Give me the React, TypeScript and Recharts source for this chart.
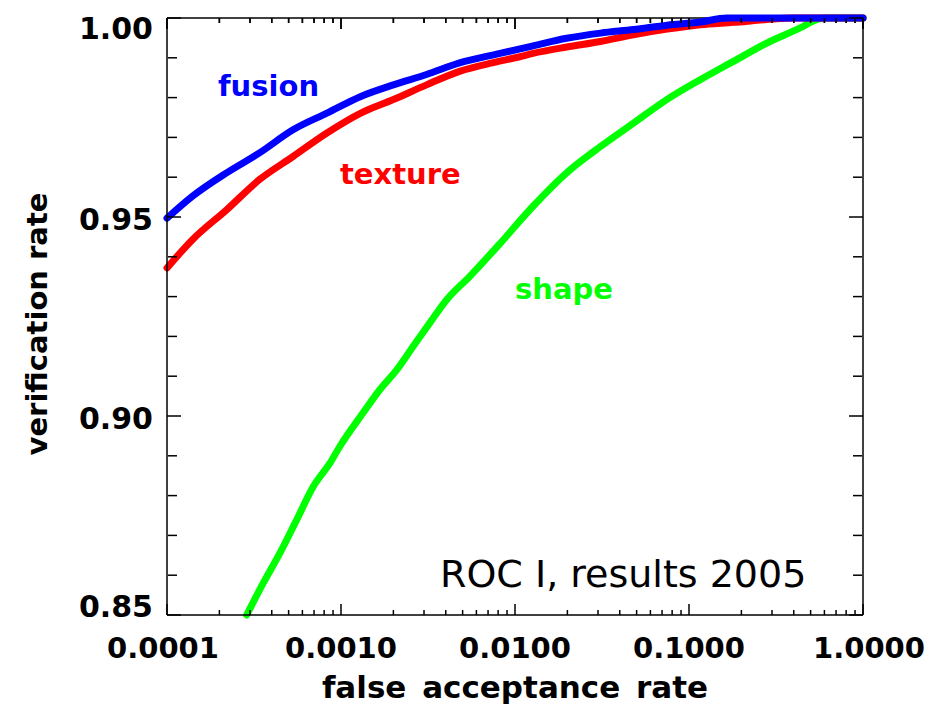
import React from 'react';
import { LineChart, Line, XAxis, YAxis, ReferenceLine, Customized } from 'recharts';

// ---------- data ----------
const fusionFar = [0.0001, 0.00014, 0.00022, 0.00034, 0.00053, 0.00083, 0.0013, 0.002, 0.0031, 0.0048, 0.0082, 0.0127, 0.0198, 0.031, 0.048, 0.075, 0.116, 0.165, 0.3, 0.6, 1.0];
const fusionVr = [0.9497, 0.9552, 0.9611, 0.9661, 0.9719, 0.9761, 0.9803, 0.9832, 0.9858, 0.9887, 0.9911, 0.993, 0.9949, 0.9962, 0.9971, 0.9982, 0.999, 1.0, 1.0, 1.0, 1.0];

const textureFar = [0.0001, 0.00014, 0.00022, 0.00034, 0.00053, 0.00083, 0.0013, 0.002, 0.0031, 0.0048, 0.0075, 0.0105, 0.0127, 0.0198, 0.031, 0.048, 0.075, 0.116, 0.18, 0.28, 0.4, 1.0];
const textureVr = [0.9372, 0.9443, 0.9518, 0.9594, 0.9652, 0.9711, 0.9761, 0.9795, 0.9832, 0.9866, 0.9888, 0.9902, 0.9911, 0.9927, 0.9941, 0.9958, 0.9972, 0.9983, 0.9989, 0.9996, 1.0, 1.0];

const shapeFar = [0.000287, 0.000357, 0.000446, 0.000556, 0.000693, 0.000865, 0.000986, 0.00134, 0.00167, 0.00209, 0.0026, 0.00324, 0.00405, 0.0055, 0.008, 0.0127, 0.0198, 0.031, 0.048, 0.0745, 0.116, 0.18, 0.28, 0.435, 0.542, 0.6, 1.0];
const shapeVr = [0.85, 0.858, 0.8656, 0.8739, 0.8823, 0.8882, 0.8924, 0.9008, 0.9066, 0.9116, 0.9175, 0.9234, 0.9292, 0.9351, 0.9428, 0.9527, 0.9611, 0.9677, 0.9736, 0.9795, 0.9845, 0.9891, 0.9937, 0.9975, 0.9996, 1.0, 1.0];

const xMajorTicks = [0.0001, 0.001, 0.01, 0.1, 1];
const xMinorTicks = [
  0.0002, 0.0003, 0.0004, 0.0005, 0.0006, 0.0007, 0.0008, 0.0009,
  0.002, 0.003, 0.004, 0.005, 0.006, 0.007, 0.008, 0.009,
  0.02, 0.03, 0.04, 0.05, 0.06, 0.07, 0.08, 0.09,
  0.2, 0.3, 0.4, 0.5, 0.6, 0.7, 0.8, 0.9,
];
const yMajorTicks = [0.85, 0.9, 0.95, 1.0];
const yMinorTicks = [0.86, 0.87, 0.88, 0.89, 0.91, 0.92, 0.93, 0.94, 0.96, 0.97, 0.98, 0.99];

const seriesNames = ['fusion', 'texture', 'shape'];
const xTitle = 'false acceptance rate';
const yTitle = 'verification rate';
const note = 'ROC I, results 2005';

const toPoints = (far: number[], vr: number[]) => far.map((f, i) => ({ far: f, vr: vr[i] }));
const fusionData = toPoints(fusionFar, fusionVr);
const textureData = toPoints(textureFar, textureVr);
const shapeData = toPoints(shapeFar, shapeVr);

const xAllTicks = [...xMajorTicks, ...xMinorTicks].sort((a, b) => a - b);
const isMajorX = (v: number) => xMajorTicks.some((m) => Math.abs(m - v) < m * 1e-6);

const XDOM: [number, number] = [0.0001, 1];
const YDOM: [number, number] = [0.85, 1.0];

// ---------- styles ----------
const W = 929;
const H = 708;
const X_AXIS_H = 93;
const MARGIN = { top: 18, right: 66, bottom: 0, left: 0 };
const PLOT_H = H - MARGIN.top - MARGIN.bottom - X_AXIS_H;
const FONT = "'DejaVu Sans', sans-serif";
const AX = { stroke: '#000', strokeWidth: 1.5 };
const X_LABEL_GAP = 22;
const X_MAJOR_LEN = 11;
const X_MINOR_LEN = 5;
const pxToY = (px: number) => (px * (YDOM[1] - YDOM[0])) / PLOT_H;

// bottom axis: inward tick marks on bottom and top frame edges + decade labels
const XTick = (props: any) => {
  const { x, y, payload } = props;
  const v = Number(payload.value);
  const major = isMajorX(v);
  const axisY = y - X_LABEL_GAP;
  const topY = MARGIN.top;
  const len = major ? X_MAJOR_LEN : X_MINOR_LEN;
  const shift = v >= 0.999 ? 6 : v <= 0.00011 ? -4 : 0;
  return (
    <g>
      <line x1={x} x2={x} y1={axisY} y2={axisY - len} stroke="#000" strokeWidth={1.5} />
      <line x1={x} x2={x} y1={topY} y2={topY + len} stroke="#000" strokeWidth={1.5} />
      {major && (
        <text x={x + shift} y={y} dy="0.71em" textAnchor="middle" fontFamily={FONT} fontWeight="bold" fontSize={29} fill="#000">
          {v.toFixed(4)}
        </text>
      )}
    </g>
  );
};

const YTick = (props: any) => {
  const { x, y, payload } = props;
  const v = Number(payload.value);
  const shift = v >= 0.999 ? 10 : v <= 0.851 ? -9 : 2;
  return (
    <text x={x} y={y + shift} dy="0.355em" textAnchor="end" fontFamily={FONT} fontWeight="bold" fontSize={30} fill="#000">
      {v.toFixed(2)}
    </text>
  );
};

const NoLabel = () => <g />;

const Annotations = () => (
  <g>
    <text x={218} y={96} fill="#0000ff" fontFamily={FONT} fontWeight="bold" fontSize={29}>{seriesNames[0]}</text>
    <text x={340} y={184} fill="#ff0000" fontFamily={FONT} fontWeight="bold" fontSize={29}>{seriesNames[1]}</text>
    <text x={515} y={299} fill="#00ff00" fontFamily={FONT} fontWeight="bold" fontSize={29}>{seriesNames[2]}</text>
    <text x={440} y={587} fill="#000" fontFamily={FONT} fontSize={38}>{note}</text>
    <text x={515} y={698} textAnchor="middle" fill="#000" fontFamily={FONT} fontWeight="bold" fontSize={31} style={{ wordSpacing: 5 }}>{xTitle}</text>
    <text x={47} y={324} textAnchor="middle" transform="rotate(-90 47 324)" fill="#000" fontFamily={FONT} fontWeight="bold" fontSize={29}>{yTitle}</text>
  </g>
);

export default function App() {
  return (
    <div style={{ position: 'absolute', left: 0, top: 0, width: W, height: H, background: '#fff' }}>
      <LineChart width={W} height={H} margin={MARGIN}>
        {/* bottom axis: labels + inward ticks (bottom and top edges) */}
        <XAxis xAxisId="m" dataKey="far" type="number" scale="log" domain={XDOM} ticks={xAllTicks} interval={0}
          tickLine={false} tickSize={0} tickMargin={X_LABEL_GAP} tick={<XTick />} axisLine={AX} height={X_AXIS_H} />

        <YAxis yAxisId="m" dataKey="vr" type="number" domain={YDOM} ticks={yMajorTicks} interval={0}
          tickLine={false} tickSize={0} tickMargin={14} tick={<YTick />} axisLine={AX} width={167} />
        {/* left inward ticks */}
        <YAxis yAxisId="lM" orientation="left" mirror width={1} type="number" domain={YDOM} allowDataOverflow
          ticks={yMajorTicks} interval={0} tick={<NoLabel />} tickSize={14} tickLine={AX} axisLine={false} />
        <YAxis yAxisId="lm" orientation="left" mirror width={1} type="number" domain={YDOM} allowDataOverflow
          ticks={yMinorTicks} interval={0} tick={<NoLabel />} tickSize={9} tickLine={AX} axisLine={false} />
        {/* right inward ticks */}
        <YAxis yAxisId="rM" orientation="right" mirror width={1} type="number" domain={YDOM} allowDataOverflow
          ticks={yMajorTicks} interval={0} tick={<NoLabel />} tickSize={14} tickLine={AX} axisLine={AX} />
        <YAxis yAxisId="rm" orientation="right" mirror width={1} type="number" domain={YDOM} allowDataOverflow
          ticks={yMinorTicks} interval={0} tick={<NoLabel />} tickSize={9} tickLine={AX} axisLine={false} />

        {/* top frame edge */}
        <ReferenceLine xAxisId="m" yAxisId="m" y={YDOM[1]} stroke="#000" strokeWidth={1.5} ifOverflow="visible" />
        {/* top frame inward ticks */}
        {xAllTicks.map((v) => (
          <ReferenceLine key={`tt-${v}`} xAxisId="m" yAxisId="m" ifOverflow="visible"
            segment={[{ x: v, y: YDOM[1] }, { x: v, y: YDOM[1] - pxToY(isMajorX(v) ? X_MAJOR_LEN : X_MINOR_LEN) }]}
            stroke="#000" strokeWidth={1.5} />
        ))}

        <Line xAxisId="m" yAxisId="m" data={shapeData} dataKey="vr" type="monotone" stroke="#00ff00" strokeWidth={7}
          strokeLinecap="round" strokeLinejoin="round" dot={false} isAnimationActive={false} />
        <Line xAxisId="m" yAxisId="m" data={textureData} dataKey="vr" type="monotone" stroke="#ff0000" strokeWidth={7}
          strokeLinecap="round" strokeLinejoin="round" dot={false} isAnimationActive={false} />
        <Line xAxisId="m" yAxisId="m" data={fusionData} dataKey="vr" type="monotone" stroke="#0000ff" strokeWidth={7}
          strokeLinecap="round" strokeLinejoin="round" dot={false} isAnimationActive={false} />

        <Customized component={Annotations} />
      </LineChart>
    </div>
  );
}
